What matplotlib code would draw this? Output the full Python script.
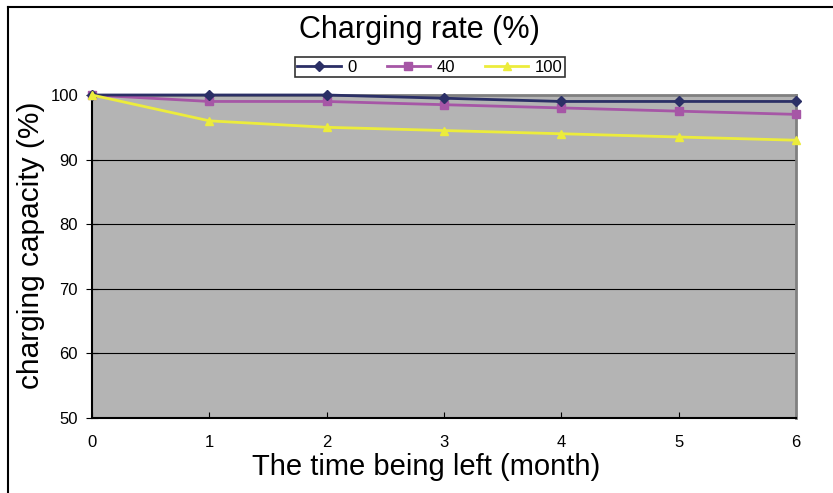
import matplotlib.pyplot as plt
from matplotlib.lines import Line2D

plt.rcParams['font.family'] = ['Liberation Sans', 'DejaVu Sans']

months = [0, 1, 2, 3, 4, 5, 6]
rate_0 = [100, 100, 100, 99.5, 99, 99, 99]
rate_40 = [100, 99, 99, 98.5, 98, 97.5, 97]
rate_100 = [100, 96, 95, 94.5, 94, 93.5, 93]
labels = ['0', '40', '100']

fig = plt.figure(figsize=(8.33, 4.93), dpi=100)
ax = fig.add_axes([92/833, 1 - 418/493, (796 - 92)/833, (418 - 95)/493])
ax.set_facecolor('#b4b4b4')

ax.plot(months, rate_0, color='#2b2f66', lw=2, marker='D', ms=5, label=labels[0], clip_on=False, zorder=5)
ax.plot(months, rate_40, color='#a656a6', lw=2, marker='s', ms=6, label=labels[1], clip_on=False, zorder=4)
ax.plot(months, rate_100, color='#ecec3c', lw=2, marker='^', ms=6, label=labels[2], clip_on=False, zorder=6)

ax.set_xlim(0, 6)
ax.set_ylim(50, 100)
ax.set_xticks(months)
ax.set_yticks([50, 60, 70, 80, 90, 100])
for y in [60, 70, 80, 90]:
    ax.axhline(y, color='black', lw=0.8, zorder=1)
ax.tick_params(axis='x', direction='in', length=4, labelsize=12, pad=12)
ax.tick_params(axis='y', direction='inout', length=8, labelsize=12, pad=6)

ax.spines['left'].set_color('black')
ax.spines['bottom'].set_color('black')
ax.spines['left'].set_linewidth(1.5)
ax.spines['bottom'].set_linewidth(1.5)
ax.spines['top'].set_color('#808080')
ax.spines['right'].set_color('#808080')
ax.spines['top'].set_linewidth(2)
ax.spines['right'].set_linewidth(2)

ax.set_xlabel('The time being left (month)', fontsize=21)
ax.set_ylabel('charging capacity (%)', fontsize=21.5)
ax.xaxis.set_label_coords((426 - 92) / 704, (418 - 453) / 323)
ax.yaxis.set_label_coords((45 - 92) / 704, (418 - 245) / 323)

fig.text(419/833, 1 - 30/493, 'Charging rate (%)', fontsize=22, ha='center', va='center')
leg = fig.legend(loc='center', bbox_to_anchor=(430/833, 1 - 67/493), ncol=3, frameon=True,
                 fancybox=False, edgecolor='black', fontsize=12, handlelength=2.6,
                 columnspacing=1.8, borderpad=0.15, handletextpad=0.4)
leg.get_frame().set_linewidth(1.2)

# outer border lines (top and left)
fig.add_artist(Line2D([8/833, 1], [1 - 7/493, 1 - 7/493], color='black', lw=1.5, transform=fig.transFigure))
fig.add_artist(Line2D([8/833, 8/833], [1 - 7/493, 0], color='black', lw=1.5, transform=fig.transFigure))

fig.savefig('out.png', dpi=100)
